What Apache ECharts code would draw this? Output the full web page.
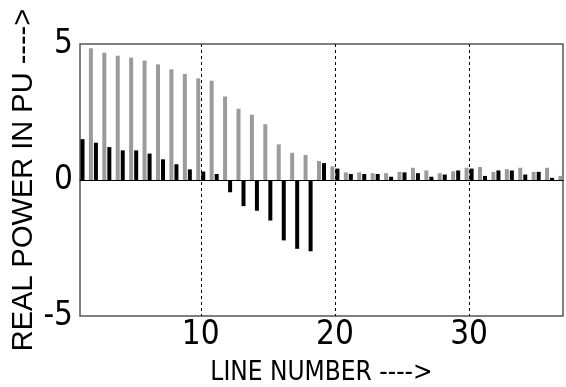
<!DOCTYPE html>
<html>
<head>
<meta charset="utf-8">
<title>Real power per line</title>
<script src="https://cdn.jsdelivr.net/npm/echarts@6/dist/echarts.min.js"></script>
<style>
  html, body { margin: 0; padding: 0; background: #fff; }
  #canvas { width: 566px; height: 387px; }
</style>
</head>
<body>
<div id="canvas"></div>
<script type="text/javascript">
    // 线路编号 1..36
    var lineNumbers = [];
    for (var i = 1; i <= 36; i++) lineNumbers.push(i);

    // 黑色柱
    var blackValues = [1.50, 1.37, 1.21, 1.09, 1.09, 0.97, 0.76, 0.58, 0.39, 0.31,
                       0.22, -0.45, -0.96, -1.13, -1.49, -2.22, -2.53, -2.62, 0.62, 0.42,
                       0.22, 0.22, 0.22, 0.12, 0.28, 0.25, 0.12, 0.20, 0.35, 0.42,
                       0.15, 0.35, 0.35, 0.20, 0.30, 0.08];
    // 灰色柱
    var grayValues = [4.84, 4.68, 4.57, 4.50, 4.39, 4.25, 4.07, 3.90, 3.74, 3.65,
                      3.07, 2.62, 2.40, 2.05, 1.31, 1.00, 0.92, 0.70, 0.50, 0.28,
                      0.28, 0.25, 0.25, 0.30, 0.45, 0.35, 0.25, 0.32, 0.45, 0.48,
                      0.30, 0.40, 0.45, 0.30, 0.45, 0.15];

    var xTicks = [10, 20, 30];

    var tickFont = '"Liberation Sans Narrow", "DejaVu Sans Condensed", Arial, sans-serif';
    var nameFont = 'Arial, "Liberation Sans", sans-serif';

    var Dom = document.querySelector("#canvas");
    var myChart = echarts.init(Dom, null, { renderer: 'canvas' });
    var option = {
        animation: false,
        backgroundColor: '#fff',
        grid: {
            left: 80, right: 3, top: 44, bottom: 71,
            outerBoundsMode: 'none',
            containLabel: false,
            show: true, borderColor: '#555', borderWidth: 1.5
        },
        xAxis: [
            { // 柱子用的类目轴，只画零线
                type: 'category',
                data: lineNumbers,
                position: 'top',
                boundaryGap: true,
                axisLine: { show: true, onZero: true, lineStyle: { color: '#000', width: 1 } },
                axisTick: { show: false },
                axisLabel: { show: false },
                splitLine: { show: false }
            },
            { // 刻度和虚线
                type: 'value',
                min: 1, max: 37,
                position: 'bottom',
                axisLine: { show: false, onZero: false },
                axisTick: { show: false, customValues: xTicks },
                axisLabel: {
                    customValues: xTicks,
                    color: '#000', fontFamily: tickFont, fontSize: 33, margin: 3
                },
                splitLine: { show: true, lineStyle: { color: '#000', type: [3, 3], width: 1 } },
                name: 'LINE NUMBER ---->',
                nameLocation: 'middle',
                nameGap: 44,
                nameMoveOverlap: false,
                nameTextStyle: { color: '#000', fontFamily: tickFont, fontSize: 26 }
            }
        ],
        yAxis: {
            type: 'value',
            min: -5, max: 5, interval: 5,
            axisLine: { show: false },
            axisTick: { show: false },
            splitLine: { show: false },
            axisLabel: { color: '#000', fontFamily: tickFont, fontSize: 33, margin: 7 },
            name: 'REAL POWER IN PU ---->',
            nameLocation: 'middle',
            nameGap: 42,
            nameRotate: 90,
            nameMoveOverlap: false,
            nameTextStyle: { color: '#000', fontFamily: nameFont, fontSize: 29 }
        },
        series: [
            {
                name: 'black',
                type: 'bar',
                xAxisIndex: 0,
                data: blackValues,
                barWidth: 4,
                barGap: '110%',
                itemStyle: { color: '#000' }
            },
            {
                name: 'gray',
                type: 'bar',
                xAxisIndex: 0,
                data: grayValues,
                barWidth: 4,
                barGap: '110%',
                itemStyle: { color: '#9b9b9b' }
            }
        ]
    };
    myChart.setOption(option);
</script>
</body>
</html>
